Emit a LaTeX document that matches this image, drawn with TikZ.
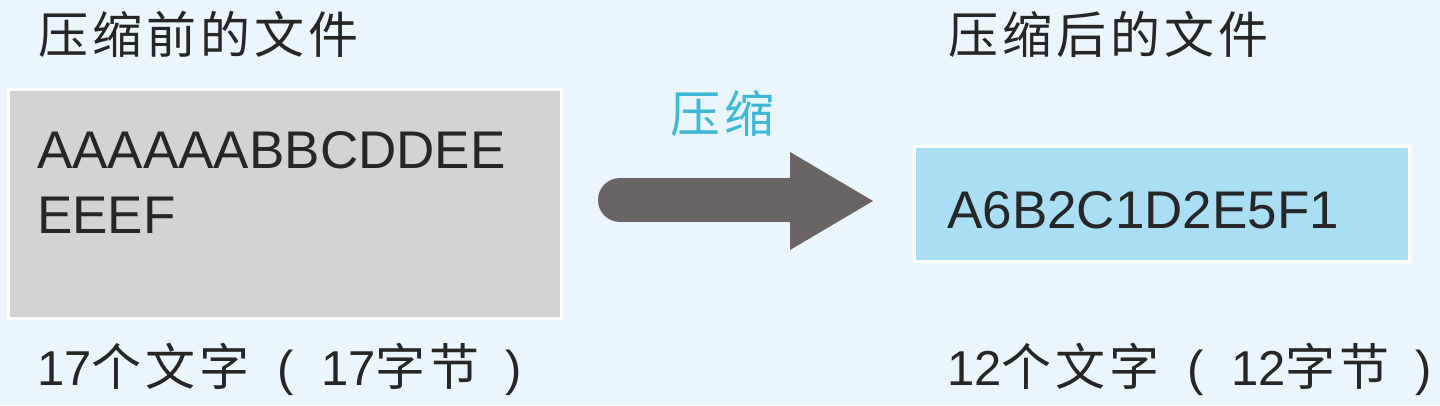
\documentclass[tikz,border=0pt]{standalone}
\usepackage{fontspec}
\setmainfont{Liberation Sans}
\newfontfamily\cjk[LetterSpace=8]{Noto Sans CJK SC}
\definecolor{bg}{HTML}{EAF5FC}
\definecolor{boxgray}{HTML}{D4D3D4}
\definecolor{boxblue}{HTML}{A9DEF5}
\definecolor{arrowgray}{HTML}{6A6465}
\definecolor{labelcyan}{HTML}{3FB8D6}
\definecolor{ink}{HTML}{262626}
\newcommand\cjkf{\cjk\fontsize{50}{56}\selectfont}
\newcommand\latf{\rmfamily\fontsize{49}{56}\selectfont}
\tikzset{
  databox/.style={draw=white, line width=3pt, anchor=north west, inner sep=0pt},
  cjktext/.style={anchor=west, inner sep=0pt, text=ink, font=\cjkf},
  latintext/.style={anchor=base west, inner sep=0pt, text=ink, font=\fontsize{53}{60}\selectfont},
}
\begin{document}
\begin{tikzpicture}[x=1pt,y=-1pt]
\fill[bg] (0,0) rectangle (1440,405);
\useasboundingbox (0,0) rectangle (1440,405);
% boxes
\node[databox, fill=boxgray, minimum width=553pt, minimum height=229pt] (src) at (7,88) {};
\node[databox, fill=boxblue, minimum width=495pt, minimum height=115pt] (dst) at (913,145) {};
% titles
\node[cjktext] (t1) at (38,34) {压缩前的文件};
\node[cjktext] (t2) at (948,34) {压缩后的文件};
% contents
\node[latintext] (s1) at (37,168) {AAAAAABBCDDEE};
\node[latintext] (s2) at (37,233) {EEEF};
\node[latintext] (d1) at (947,228) {A6B2C1D2E5F1};
% footers
\node[cjktext] (f1) at (37,369) {{\latf 17}个文字\hspace{28pt}{\latf (}\hspace{27pt}{\latf 17}字节\hspace{26pt}{\latf )}};
\node[cjktext] (f2) at (947,369) {{\latf 12}个文字\hspace{28pt}{\latf (}\hspace{27pt}{\latf 12}字节\hspace{26pt}{\latf )}};
% arrow
\coordinate (a0) at (620,200);
\coordinate (a1) at (795,200);
\draw[arrowgray, line width=44pt, line cap=round] (a0) -- (a1);
\fill[arrowgray] (790,152) -- (873,201) -- (790,250) -- cycle;
\node[anchor=center, inner sep=0pt, text=labelcyan, font=\cjkf] (lbl) at (722,113) {压缩};
\end{tikzpicture}
\end{document}
